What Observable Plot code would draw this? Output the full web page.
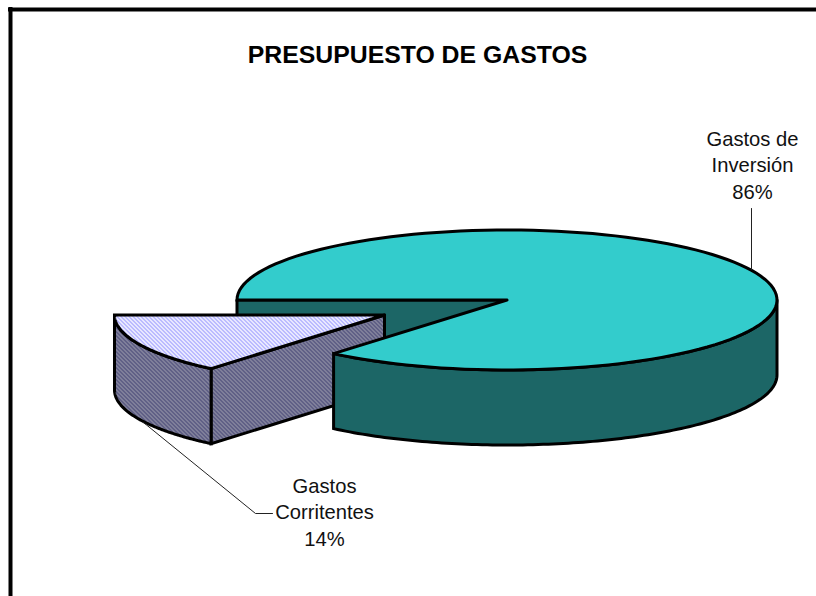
<!DOCTYPE html>
<html>
<head>
<meta charset="utf-8">
<script src="https://cdn.jsdelivr.net/npm/d3@7"></script>
<script src="https://cdn.jsdelivr.net/npm/@observablehq/plot@0.6"></script>
<style>html,body{margin:0;padding:0;background:#fff;overflow:hidden}svg{display:block}</style>
</head>
<body>
<div id="chart"></div>
<script>
const title = "PRESUPUESTO DE GASTOS";
const categories = ["Gastos de Inversión", "Gastos Corrientes"];
const shares = [86.1, 13.9];
const labelLines = [["Gastos de", "Inversión", "86%"], ["Gastos", "Corritentes", "14%"]];
const labelAnchors = [[752, 139], [324, 486]];
const lineGap = 26.5;
const leaderInversion = [[751, 208], [751, 269]];
const leaderCorrientes = [[143, 422], [255, 513], [272, 513]];

const W = 816, H = 596;
const pie = {cx: 506.5, cy: 299.5, rx: 270, ry: 70, depth: 75};
const explode = {dx: -122.5, dy: 15};
const gap = shares[1] / d3.sum(shares) * 2 * Math.PI;

// angle 0 = right, growing clockwise on screen; the small slice starts at the left edge, going down
const pt = (a, o = {}) => ({
  x: pie.cx + (o.dx || 0) + pie.rx * Math.cos(a),
  y: pie.cy + (o.dy || 0) + (o.d || 0) + pie.ry * Math.sin(a)
});
const arc = (a0, a1, o) => {
  const n = 120;
  return d3.range(n + 1).map(i => pt(a0 + (a1 - a0) * i / n, o));
};
const close = p => [...p, p[0]];
const c = (o = {}) => ({x: pie.cx + (o.dx || 0), y: pie.cy + (o.dy || 0) + (o.d || 0)});

const aCut = Math.PI - gap;  // boundary between the slices, lower left

// big slice: runs from the left edge over the top and right to the cut
const bigTop = close([c(), ...arc(Math.PI, 2 * Math.PI + aCut)]);
const bigOuter = close([...arc(0, aCut), ...arc(aCut, 0, {d: pie.depth})]);
const bigInner = close([pt(Math.PI), c(), c({d: pie.depth}), pt(Math.PI, {d: pie.depth})]);

// exploded small slice
const e = explode;
const smallTop = close([c(e), ...arc(aCut, Math.PI, e)]);
const smallOuter = close([...arc(aCut, Math.PI, e), ...arc(Math.PI, aCut, {...e, d: pie.depth})]);
const smallInner = close([c(e), pt(aCut, e), pt(aCut, {...e, d: pie.depth}), c({...e, d: pie.depth})]);

const face = (points, fill) => Plot.line(points, {
  x: "x", y: "y", fill, stroke: "#000", strokeWidth: 3,
  strokeLinejoin: "miter", strokeMiterlimit: 3, curve: "linear"
});
const leader = pts => Plot.line(pts, {x: d => d[0], y: d => d[1], stroke: "#222", strokeWidth: 1});

const textRows = labelLines.flatMap((lines, i) =>
  lines.map((t, j) => ({t, x: labelAnchors[i][0], y: labelAnchors[i][1] + j * lineGap})));

const font = "'Liberation Sans', Arial, sans-serif";
const DARK = "#1c6666", TEAL = "#33cccc";

const svg = Plot.plot({
  width: W, height: H,
  marginTop: 0, marginRight: 0, marginBottom: 0, marginLeft: 0,
  style: {background: "#fff", fontFamily: font},
  x: {domain: [0, W], range: [0, W], axis: null},
  y: {domain: [0, H], range: [0, H], axis: null},
  marks: [
    Plot.ruleX([10], {y1: 7, y2: H, stroke: "#000", strokeWidth: 4}),
    Plot.ruleY([9], {x1: 8, x2: W, stroke: "#000", strokeWidth: 4}),
    face(bigInner, DARK),
    face(smallInner, "url(#hatchWall)"),
    face(smallOuter, "url(#hatchWall)"),
    face(smallTop, "url(#hatchTop)"),
    face(bigOuter, DARK),
    face(bigTop, TEAL),
    leader(leaderInversion),
    leader(leaderCorrientes),
    Plot.text([title], {
      x: () => 417, y: () => 55, text: d => d, fontSize: 24.8, fontWeight: "bold",
      fontFamily: font, fill: "#000"
    }),
    Plot.text(textRows, {
      x: "x", y: "y", text: "t", fontSize: 20.2, fontFamily: font, fill: "#111"
    })
  ]
});

// fine dither patterns for the exploded slice
const defs = d3.select(svg).insert("defs", ":first-child");
const tile = (id, bg, fg) => {
  const p = defs.append("pattern").attr("id", id).attr("patternUnits", "userSpaceOnUse")
    .attr("width", 4).attr("height", 4);
  p.append("rect").attr("width", 4).attr("height", 4).attr("fill", bg);
  [[0, 0], [1, 1], [2, 2], [3, 3], [1, 0], [2, 1], [3, 2], [0, 3]].forEach(([x, y]) =>
    p.append("rect").attr("x", x).attr("y", y).attr("width", 1).attr("height", 1).attr("fill", fg));
};
tile("hatchTop", "#ffffff", "#a4a4ff");
tile("hatchWall", "#8f8fa4", "#50507c");

document.getElementById("chart").append(svg);
</script>
</body>
</html>
